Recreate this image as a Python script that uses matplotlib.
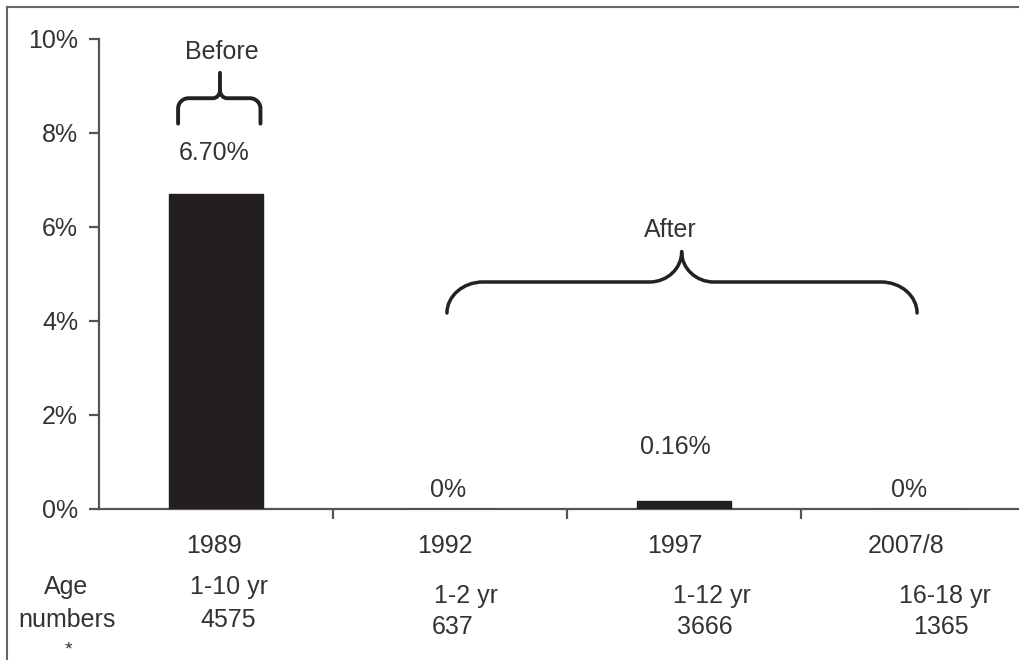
import matplotlib
matplotlib.use("Agg")
import matplotlib.pyplot as plt
from matplotlib.path import Path
from matplotlib.patches import PathPatch
from matplotlib.lines import Line2D
import matplotlib.transforms as mtransforms

# ---- data ----
years = ["1989", "1992", "1997", "2007/8"]
rates = [6.70, 0.0, 0.16, 0.0]
rate_labels = ["6.70%", "0%", "0.16%", "0%"]
ages = ["1-10 yr", "1-2 yr", "1-12 yr", "16-18 yr"]
numbers = ["4575", "637", "3666", "1365"]
yticks = [0, 2, 4, 6, 8, 10]
ytick_labels = ["0%", "2%", "4%", "6%", "8%", "10%"]

# ---- layout ----
plt.rcParams['font.family'] = ['Liberation Sans', 'DejaVu Sans']
FS = 18
TXT = "#333333"

W, H = 1019, 660
fig = plt.figure(figsize=(W / 100, H / 100), dpi=100)
ax = fig.add_axes([99 / W, (H - 509) / H, 936 / W, 470 / H])

x = list(range(len(years)))
ax.bar(x, rates, width=0.4, color="#231f20", edgecolor="#231f20", zorder=3)
ax.set_xlim(-0.5, 3.5)
ax.set_ylim(0, 10)

for s in ["top", "right"]:
    ax.spines[s].set_visible(False)
for s in ["left", "bottom"]:
    ax.spines[s].set_color("#555555")
    ax.spines[s].set_linewidth(1.6)

ax.set_yticks(yticks)
ax.set_yticklabels(ytick_labels, fontsize=FS, color=TXT)
ax.tick_params(axis="y", direction="out", length=7, width=1.6, color="#555555", pad=8)
ax.set_xticks([0.5, 1.5, 2.5])
ax.set_xticklabels([])
ax.tick_params(axis="x", direction="out", length=7, width=1.6, color="#555555")

# value labels
lab_dx = [-0.01, -0.01, -0.035, -0.04]
lab_dy = [0.87, 0.40, 1.16, 0.40]
for i, (r, t) in enumerate(zip(rates, rate_labels)):
    ax.text(i + lab_dx[i], r + lab_dy[i], t, ha="center", va="center",
            fontsize=FS, color=TXT)

# rows below the axis
bt = mtransforms.blended_transform_factory(ax.transData, fig.transFigure)
year_dx = [-0.01, -0.02, -0.04, -0.05]
age_dx = [0.055, 0.07, 0.12, 0.115]
num_dx = [0.05, 0.01, 0.09, 0.10]
age_y = [587, 596, 596, 596]
num_y = [620, 627, 627, 627]
for i in x:
    ax.text(i + year_dx[i], 1 - 546 / H, years[i], transform=bt, ha="center",
            va="center", fontsize=FS, color=TXT)
    ax.text(i + age_dx[i], 1 - age_y[i] / H, ages[i], transform=bt, ha="center",
            va="center", fontsize=FS, color=TXT)
    ax.text(i + num_dx[i], 1 - num_y[i] / H, numbers[i], transform=bt, ha="center",
            va="center", fontsize=FS, color=TXT)
fig.text(66 / W, 1 - 587 / H, "Age", ha="center", va="center", fontsize=FS, color=TXT)
fig.text(67 / W, 1 - 620 / H, "numbers", ha="center", va="center", fontsize=FS, color=TXT)
fig.text(68 / W, 1 - 650 / H, "*", ha="center", va="center", fontsize=FS - 4, color=TXT)


# braces (annotation)
def brace(x0, x1, xm, y_end, y_mid, y_tip, rx, ry, tx, ty, lw):
    k = 0.55
    verts = [
        (x0, y_end), (x0, y_mid - ry),
        (x0, y_mid - ry + k * ry), (x0 + rx - k * rx, y_mid), (x0 + rx, y_mid),
        (xm - tx, y_mid),
        (xm - tx + k * tx, y_mid), (xm, y_mid + ty - k * ty), (xm, y_mid + ty),
        (xm, y_tip),
        (xm, y_mid + ty),
        (xm, y_mid + ty - k * ty), (xm + tx - k * tx, y_mid), (xm + tx, y_mid),
        (x1 - rx, y_mid),
        (x1 - rx + k * rx, y_mid), (x1, y_mid - ry + k * ry), (x1, y_mid - ry),
        (x1, y_end),
    ]
    codes = [Path.MOVETO, Path.LINETO,
             Path.CURVE4, Path.CURVE4, Path.CURVE4,
             Path.LINETO,
             Path.CURVE4, Path.CURVE4, Path.CURVE4,
             Path.LINETO,
             Path.MOVETO,
             Path.CURVE4, Path.CURVE4, Path.CURVE4,
             Path.LINETO,
             Path.CURVE4, Path.CURVE4, Path.CURVE4,
             Path.LINETO]
    p = PathPatch(Path(verts, codes), fill=False, lw=lw, edgecolor="#222222",
                  capstyle="round", joinstyle="round", clip_on=False, zorder=4)
    ax.add_patch(p)

brace(-0.162, 0.19, 0.017, 8.2, 8.74, 9.28, 0.045, 0.22, 0.03, 0.17, 2.8)
brace(0.987, 2.996, 1.99, 4.17, 4.83, 5.47, 0.154, 0.66, 0.137, 0.64, 2.5)
ax.text(0.025, 9.72, "Before", ha="center", va="center", fontsize=FS, color=TXT)
ax.text(1.94, 5.94, "After", ha="center", va="center", fontsize=FS, color=TXT)

# frame lines (top and left)
fig.add_artist(Line2D([7 / W, 1.0], [1 - 7 / H, 1 - 7 / H], transform=fig.transFigure,
                      color="#666666", lw=1.5))
fig.add_artist(Line2D([7 / W, 7 / W], [0, 1 - 7 / H], transform=fig.transFigure,
                      color="#666666", lw=1.5))

fig.savefig("out.png", dpi=100, facecolor="white")
